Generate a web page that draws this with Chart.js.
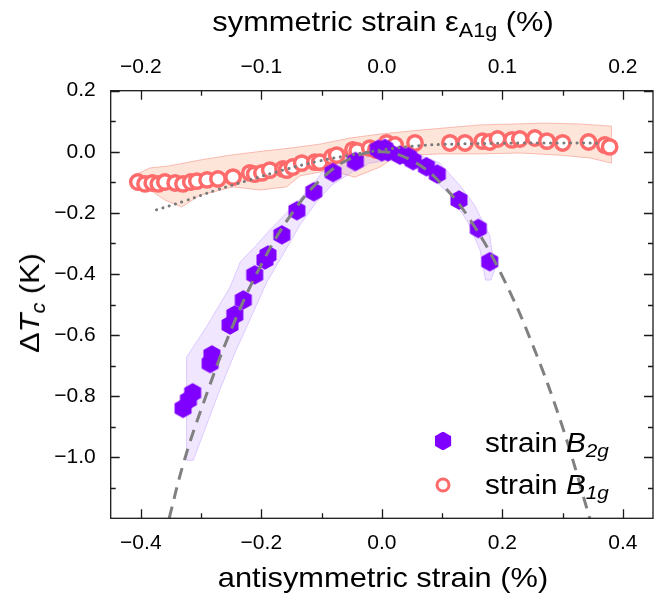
<!DOCTYPE html>
<html>
<head>
<meta charset="utf-8">
<script src="https://cdn.jsdelivr.net/npm/chart.js@4"></script>
<style>
  body { margin: 0; background: #fff; }
  #wrap { position: relative; width: 664px; height: 600px; font-family: "Liberation Sans", Arial, sans-serif; color: #000; }
  #wrap canvas { position: absolute; left: 0; top: 0; }
  .lbl { position: absolute; white-space: nowrap; font-size: 28px; line-height: 1; transform: translate(-50%, -50%) scaleX(1.1); }
  .lbl sub { font-size: 0.7em; vertical-align: -0.3em; line-height: 0; }
  .leg { position: absolute; white-space: nowrap; font-size: 27px; line-height: 1; transform: translateY(-50%) scaleX(1.1); transform-origin: left center; }
  .leg sub { font-size: 0.7em; vertical-align: -0.3em; line-height: 0; }
  .hex { position: absolute; width: 16.5px; height: 19px; background: #7f00ff; transform: translate(-50%, -50%);
         clip-path: polygon(50% 0, 100% 25%, 100% 75%, 50% 100%, 0 75%, 0 25%); }
  .ring { position: absolute; width: 9px; height: 9px; border: 3px solid #ff6b6b; border-radius: 50%; transform: translate(-50%, -50%); }
</style>
</head>
<body>
<div id="wrap">
  <canvas id="strainChart" width="664" height="600"></canvas>
  <div class="lbl" style="left:383px; top:22px;">symmetric strain ε<sub>A1g</sub> (%)</div>
  <div class="lbl" style="left:383px; top:578px;">antisymmetric strain (%)</div>
  <div class="lbl" style="left:30px; top:303px; transform: translate(-50%, -50%) rotate(-90deg) scaleX(1.1);">Δ<i>T</i><sub><i>c</i></sub> (K)</div>
  <div class="hex" style="left:443px; top:441px;"></div>
  <div class="leg" style="left:485px; top:443px;">strain <i>B</i><sub><i>2g</i></sub></div>
  <div class="ring" style="left:443px; top:485px;"></div>
  <div class="leg" style="left:485px; top:485px;">strain <i>B</i><sub><i>1g</i></sub></div>
</div>
<script>
const FONT = '"Liberation Sans", Arial, sans-serif';

// antisymmetric (B2g) strain run
const b2gX = [-0.330, -0.321, -0.314, -0.285, -0.282, -0.252, -0.244, -0.230, -0.211, -0.194, -0.189, -0.166,
              -0.141, -0.113, -0.081, -0.044, -0.006, 0.000, 0.005, 0.010, 0.030, 0.044, 0.052, 0.074, 0.092,
              0.128, 0.160, 0.179];
const b2gY = [-0.840, -0.813, -0.789, -0.693, -0.665, -0.567, -0.534, -0.485, -0.403, -0.354, -0.338, -0.272,
              -0.193, -0.131, -0.068, -0.032, 0.008, 0.000, 0.011, 0.000, -0.011, -0.016, -0.029, -0.049, -0.073,
              -0.158, -0.251, -0.360];

// B1g strain run
const b1gX = [-0.405, -0.393, -0.381, -0.371, -0.360, -0.343, -0.330, -0.317, -0.307, -0.290, -0.272, -0.247,
              -0.219, -0.211, -0.199, -0.186, -0.164, -0.158, -0.148, -0.133, -0.111, -0.103, -0.083, -0.075,
              -0.048, -0.041, -0.020, -0.010, 0.008, 0.022, 0.055, 0.113, 0.138, 0.167, 0.179, 0.192, 0.216,
              0.229, 0.254, 0.274, 0.300, 0.343, 0.370, 0.378];
const b1gY = [-0.099, -0.105, -0.102, -0.105, -0.099, -0.102, -0.105, -0.099, -0.096, -0.092, -0.089, -0.083,
              -0.069, -0.073, -0.069, -0.060, -0.056, -0.060, -0.050, -0.037, -0.034, -0.034, -0.017, -0.011,
              0.006, 0.003, 0.012, 0.006, 0.029, 0.022, 0.029, 0.029, 0.029, 0.035, 0.032, 0.042, 0.039,
              0.042, 0.045, 0.035, 0.029, 0.032, 0.022, 0.016];

// quadratic fit to the B2g run (dashed)
const fitB2gX = [-0.353, -0.330, -0.300, -0.250, -0.200, -0.150, -0.100, -0.050, 0.000, 0.050, 0.100, 0.150,
                 0.200, 0.250, 0.300, 0.345];
const fitB2gY = [-1.200, -1.025, -0.844, -0.582, -0.369, -0.204, -0.088, -0.020, 0.000, -0.029, -0.107, -0.233,
                 -0.408, -0.631, -0.902, -1.200];

// A1g response (dotted)
const fitA1gX = [-0.374, -0.330, -0.274, -0.219, -0.164, -0.108, -0.053, 0.000, 0.050, 0.100, 0.200, 0.300, 0.365];
const fitA1gY = [-0.190, -0.163, -0.125, -0.092, -0.060, -0.032, -0.011, 0.006, 0.018, 0.024, 0.028, 0.029, 0.028];

// uncertainty envelopes, outline of each shaded region
const bandB2gX = [-0.324, -0.324, -0.291, -0.252, -0.235, -0.208, -0.186, -0.153, -0.125, -0.092, -0.053, -0.020,
                  0.005, 0.030, 0.063, 0.096, 0.129, 0.154, 0.179, 0.187, 0.181, 0.172, 0.163, 0.143, 0.113,
                  0.080, 0.046, 0.013, -0.020, -0.050, -0.083, -0.106, -0.136, -0.153, -0.191, -0.232, -0.244,
                  -0.269, -0.313];
const bandB2gY = [-1.010, -0.672, -0.573, -0.443, -0.361, -0.305, -0.256, -0.190, -0.132, -0.050, -0.004, 0.019,
                  0.022, 0.012, -0.011, -0.037, -0.109, -0.175, -0.273, -0.388, -0.420, -0.420, -0.322, -0.231,
                  -0.142, -0.077, -0.044, -0.027, -0.037, -0.067, -0.109, -0.158, -0.240, -0.299, -0.427, -0.607,
                  -0.659, -0.780, -1.010];
const bandB1gX = [-0.410, -0.385, -0.352, -0.302, -0.252, -0.194, -0.153, -0.103, -0.053, -0.003, 0.063, 0.163,
                  0.272, 0.328, 0.381, 0.381, 0.345, 0.295, 0.229, 0.163, 0.096, 0.046, 0.022, -0.003, -0.045,
                  -0.086, -0.136, -0.158, -0.202, -0.247, -0.302, -0.332, -0.360, -0.385, -0.410];
const bandB1gY = [-0.076, -0.053, -0.046, -0.027, -0.011, 0.003, 0.012, 0.025, 0.045, 0.058, 0.071, 0.088,
                  0.094, 0.091, 0.084, -0.037, -0.020, -0.011, -0.004, -0.007, -0.007, -0.011, -0.017, -0.050,
                  -0.083, -0.060, -0.079, -0.115, -0.125, -0.115, -0.142, -0.181, -0.158, -0.125, -0.125];

// axis ticks
const xTicks = [-0.4, -0.2, 0.0, 0.2, 0.4];
const xMinor = [-0.3, -0.1, 0.1, 0.3];
const topTicks = [-0.2, -0.1, 0.0, 0.1, 0.2];
const topMinor = [-0.15, -0.05, 0.05, 0.15];
const yTicks = [0.2, 0.0, -0.2, -0.4, -0.6, -0.8, -1.0];
const yMinor = [0.1, -0.1, -0.3, -0.5, -0.7, -0.9, -1.1];

const pts = (xs, ys) => xs.map((x, i) => ({ x, y: ys[i] }));
const fmt = v => (v < 0 ? '\u2212' : '') + Math.abs(v).toFixed(1);

// hexagon marker sprite
function hexSprite(r, color) {
  const c = document.createElement('canvas');
  const w = Math.ceil(r * 2 + 2);
  c.width = w; c.height = w;
  const g = c.getContext('2d');
  g.fillStyle = color;
  g.beginPath();
  for (let k = 0; k < 6; k++) {
    const a = -Math.PI / 2 + k * Math.PI / 3;
    const px = w / 2 + r * Math.cos(a), py = w / 2 + r * Math.sin(a);
    k ? g.lineTo(px, py) : g.moveTo(px, py);
  }
  g.closePath();
  g.fill();
  return c;
}

function fillBand(chart, xs, ys, fill, stroke) {
  const { ctx, scales } = chart;
  ctx.save();
  ctx.beginPath();
  xs.forEach((x, i) => {
    const px = scales.x.getPixelForValue(x), py = scales.y.getPixelForValue(ys[i]);
    i ? ctx.lineTo(px, py) : ctx.moveTo(px, py);
  });
  ctx.closePath();
  ctx.fillStyle = fill;
  ctx.fill();
  ctx.strokeStyle = stroke;
  ctx.lineWidth = 1;
  ctx.stroke();
  ctx.restore();
}

const framePlugin = {
  id: 'frame',
  beforeDatasetsDraw(chart) {
    const a = chart.chartArea;
    chart.ctx.save();
    chart.ctx.beginPath();
    chart.ctx.rect(a.left, a.top, a.width, a.height);
    chart.ctx.clip();
    fillBand(chart, bandB1gX, bandB1gY, 'rgba(248,160,120,0.28)', 'rgba(245,140,130,0.55)');
    fillBand(chart, bandB2gX, bandB2gY, 'rgba(170,120,255,0.18)', 'rgba(190,150,255,0.45)');
    chart.ctx.restore();
  },
  afterDatasetsDraw(chart) {
    const { ctx, chartArea: a, scales } = chart;
    ctx.save();
    ctx.strokeStyle = '#1a1a1a';
    ctx.lineWidth = 1.3;
    ctx.strokeRect(a.left, a.top, a.width, a.height);
    const major = 9, minor = 5;
    ctx.beginPath();
    const vTick = (vals, scale, len) => vals.forEach(v => {
      const px = Math.round(scale.getPixelForValue(v)) + 0.5;
      if (scale.id === 'x') { ctx.moveTo(px, a.bottom); ctx.lineTo(px, a.bottom - len); }
      else { ctx.moveTo(px, a.top); ctx.lineTo(px, a.top + len); }
    });
    const hTick = (vals, len) => vals.forEach(v => {
      const py = Math.round(scales.y.getPixelForValue(v)) + 0.5;
      ctx.moveTo(a.left, py); ctx.lineTo(a.left + len, py);
      ctx.moveTo(a.right, py); ctx.lineTo(a.right - len, py);
    });
    vTick(xTicks, scales.x, major);
    vTick(xMinor, scales.x, minor);
    vTick(topTicks, scales.xTop, major);
    vTick(topMinor, scales.xTop, minor);
    hTick(yTicks, major);
    hTick(yMinor, minor);
    ctx.stroke();
    ctx.restore();
  }
};

const tickFont = { size: 21, family: FONT };

new Chart(document.getElementById('strainChart'), {
  type: 'scatter',
  data: {
    datasets: [
      {
        label: 'fit B2g', data: pts(fitB2gX, fitB2gY), showLine: true, order: 1,
        borderColor: '#808080', borderWidth: 3, borderDash: [12, 8], pointRadius: 0, tension: 0.4, fill: false
      },
      {
        label: 'fit A1g', data: pts(fitA1gX, fitA1gY), showLine: true, order: 2,
        borderColor: '#7a7a7a', borderWidth: 3, borderDash: [0.1, 6.5], borderCapStyle: 'round',
        pointRadius: 0, tension: 0.4, fill: false
      },
      {
        label: 'strain B2g', data: pts(b2gX, b2gY), order: 3,
        pointStyle: hexSprite(9.8, '#7f00ff'), pointRadius: 9.8
      },
      {
        label: 'strain B1g', data: pts(b1gX, b1gY), order: 4,
        pointStyle: 'circle', pointRadius: 7.2, borderWidth: 3.5, borderColor: '#ff6b6b', backgroundColor: '#ffffff'
      }
    ]
  },
  options: {
    responsive: false,
    animation: false,
    devicePixelRatio: 1,
    layout: { padding: { right: 11, left: 0, top: 0, bottom: 0 } },
    plugins: { legend: { display: false }, tooltip: { enabled: false } },
    scales: {
      x: {
        type: 'linear', position: 'bottom', min: -0.45, max: 0.45,
        grid: { display: false, drawTicks: false }, border: { display: false },
        ticks: { font: tickFont, color: '#000', padding: 12, maxRotation: 0, callback: fmt },
        afterBuildTicks: s => { s.ticks = xTicks.map(v => ({ value: v })); },
        afterFit: s => { s.height = 81.7; }
      },
      xTop: {
        type: 'linear', axis: 'x', position: 'top', min: -0.225, max: 0.225,
        grid: { display: false, drawTicks: false }, border: { display: false },
        ticks: { font: tickFont, color: '#000', padding: 11, maxRotation: 0, callback: fmt },
        afterBuildTicks: s => { s.ticks = topTicks.map(v => ({ value: v })); },
        afterFit: s => { s.height = 90.7; }
      },
      y: {
        type: 'linear', position: 'left', min: -1.2, max: 0.2,
        grid: { display: false, drawTicks: false }, border: { display: false },
        ticks: { font: tickFont, color: '#000', padding: 15, callback: fmt },
        afterBuildTicks: s => { s.ticks = yTicks.map(v => ({ value: v })); },
        afterFit: s => { s.width = 110.7; }
      }
    }
  },
  plugins: [framePlugin]
});
</script>
</body>
</html>
